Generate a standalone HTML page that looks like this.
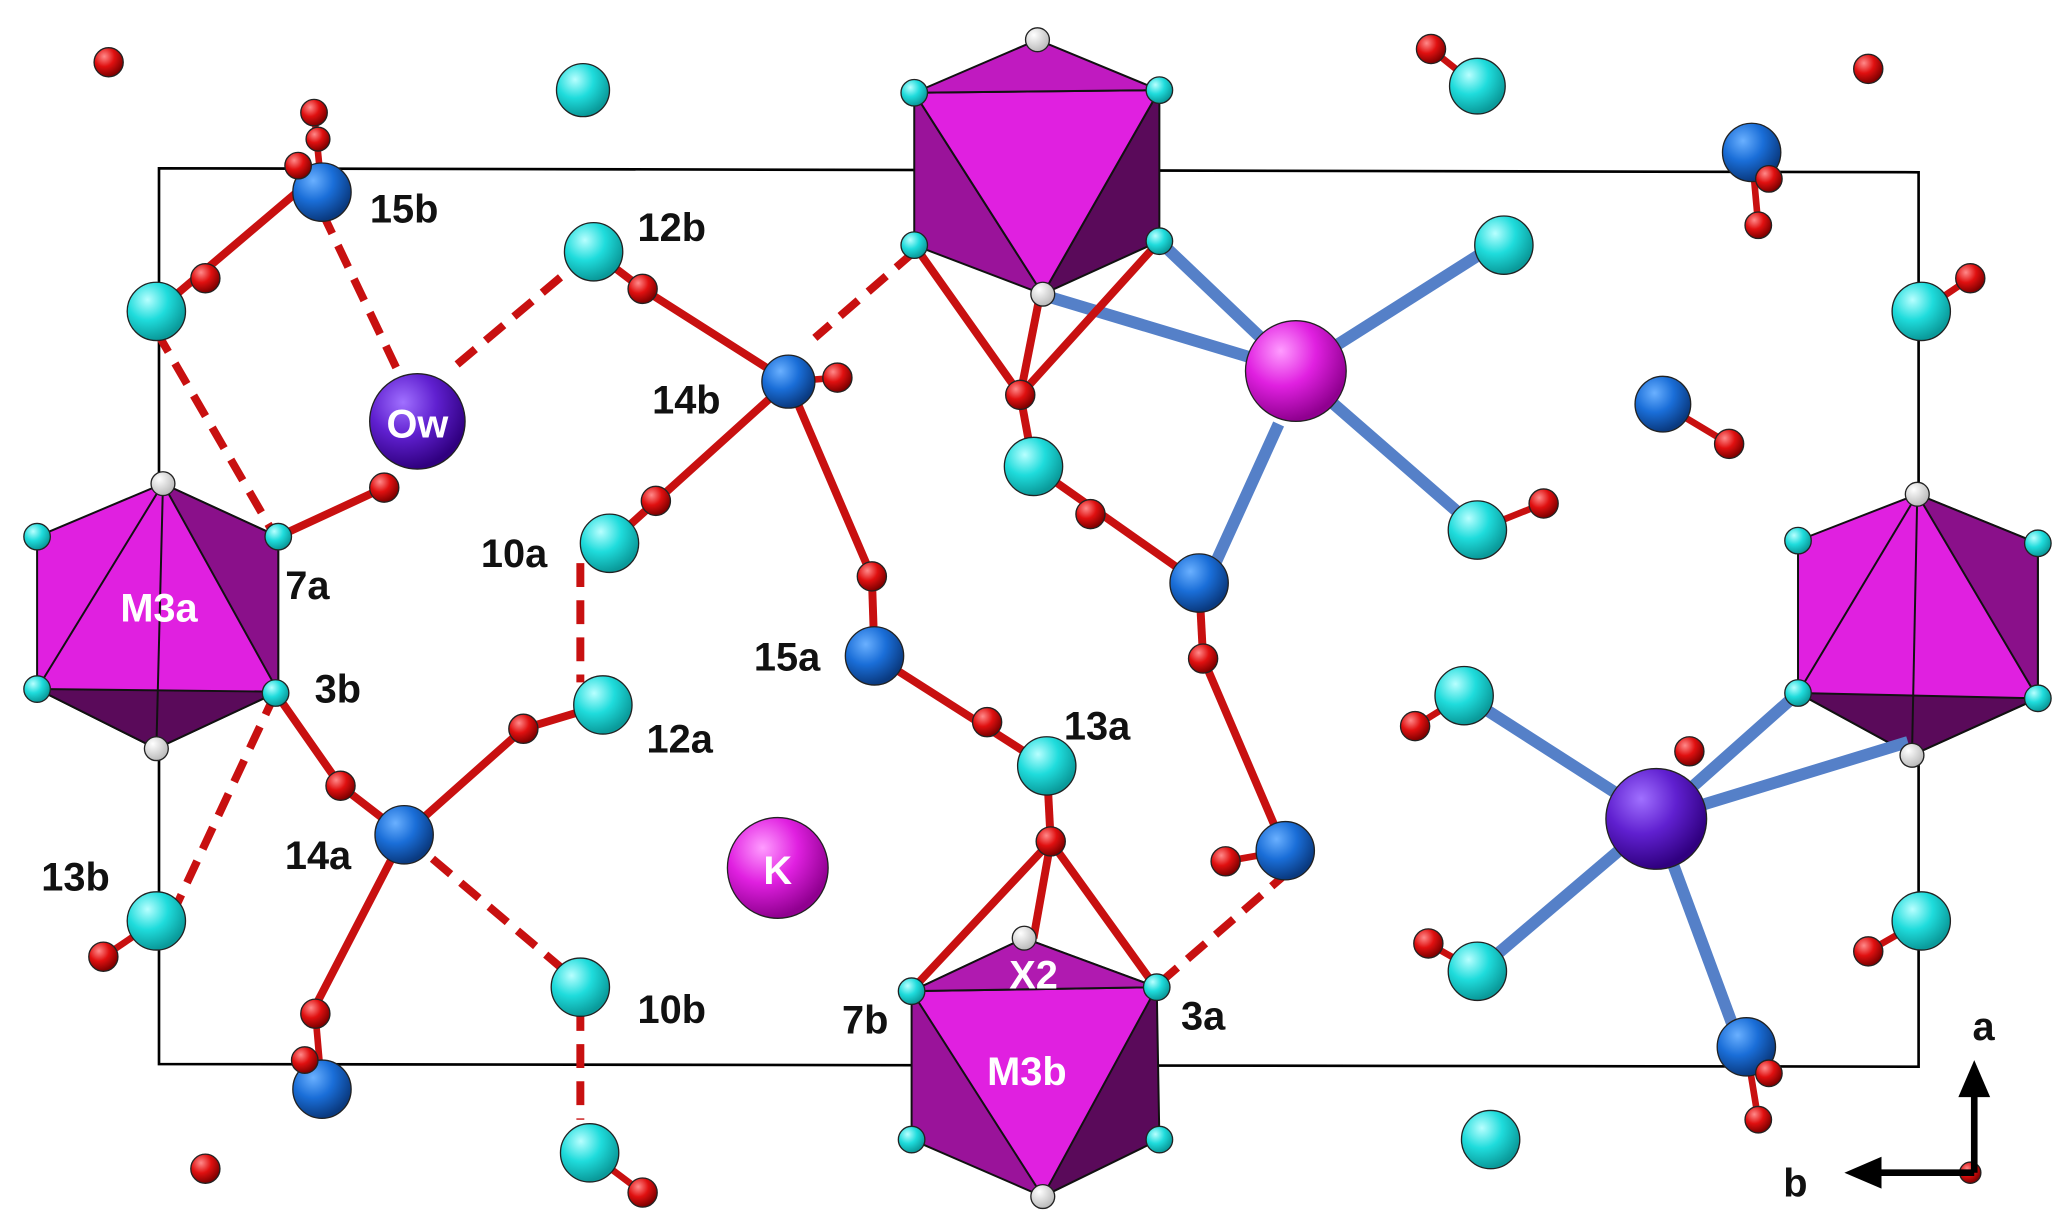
<!DOCTYPE html>
<html><head><meta charset="utf-8"><style>
html,body{margin:0;padding:0;background:#fff}
svg{display:block}
text{font-family:"Liberation Sans",Arial,sans-serif;font-weight:bold;font-size:30px;text-anchor:middle}
</style></head><body>
<svg width="2067" height="1231" viewBox="0 0 1560 929" preserveAspectRatio="none" xmlns="http://www.w3.org/2000/svg">
<defs>
<radialGradient id="gc" cx="35%" cy="30%" r="70%"><stop offset="0" stop-color="#b8ffff"/><stop offset="0.5" stop-color="#1fdcdc"/><stop offset="1" stop-color="#0a9a9a"/></radialGradient>
<radialGradient id="gb" cx="35%" cy="30%" r="70%"><stop offset="0" stop-color="#6ab0ff"/><stop offset="0.5" stop-color="#1a6ed8"/><stop offset="1" stop-color="#0a3a80"/></radialGradient>
<radialGradient id="gr" cx="35%" cy="30%" r="70%"><stop offset="0" stop-color="#ff8a8a"/><stop offset="0.5" stop-color="#e01010"/><stop offset="1" stop-color="#800000"/></radialGradient>
<radialGradient id="gw" cx="35%" cy="30%" r="70%"><stop offset="0" stop-color="#fff"/><stop offset="1" stop-color="#bbb"/></radialGradient>
<radialGradient id="gm" cx="35%" cy="30%" r="70%"><stop offset="0" stop-color="#ff9cff"/><stop offset="0.5" stop-color="#e020e0"/><stop offset="1" stop-color="#900090"/></radialGradient>
<radialGradient id="gp" cx="35%" cy="30%" r="70%"><stop offset="0" stop-color="#a070ff"/><stop offset="0.5" stop-color="#6020d0"/><stop offset="1" stop-color="#300080"/></radialGradient>
</defs>
<polygon points="120,127 1448,130 1448,805 120,803" fill="none" stroke="#000" stroke-width="2"/>

<g stroke="#111" stroke-width="1.5">
<polygon points="690,70 690,185 787,222" fill="#9a139a"/>
<polygon points="875,68 875,182 787,222" fill="#5a0a5a"/>
<polygon points="690,70 875,68 787,222" fill="#e020e0"/>
<polygon points="783,30 690,70 875,68" fill="#c01ac0"/>
<polygon points="773,708 688,748 688,860 787,903" fill="#9a139a"/>
<polygon points="773,708 873,745 875,860 787,903" fill="#5a0a5a"/>
<polygon points="688,748 873,745 787,903" fill="#e020e0"/>
<polygon points="773,708 688,748 873,745" fill="#b01ab0"/>
<polygon points="123,365 28,405 28,520 118,565 210,522 210,405" fill="#e020e0"/>
<polygon points="123,365 210,405 210,522" fill="#8a108a"/>
<polygon points="28,520 118,565 210,522" fill="#5a0a5a"/>
<line x1="123" y1="365" x2="28" y2="520"/><line x1="123" y1="365" x2="118" y2="565"/>
<polygon points="1447,373 1357,408 1357,523 1443,570 1538,527 1538,410" fill="#e020e0"/>
<polygon points="1447,373 1538,410 1538,527" fill="#8a108a"/>
<polygon points="1357,523 1443,570 1538,527" fill="#5a0a5a"/>
<line x1="1447" y1="373" x2="1357" y2="523"/><line x1="1447" y1="373" x2="1443" y2="570"/>
</g>

<g stroke="#5580c8" stroke-width="9">
<line x1="785" y1="222" x2="978" y2="280"/><line x1="875" y1="182" x2="978" y2="280"/>
<line x1="978" y1="280" x2="1120" y2="190"/><line x1="978" y1="280" x2="1110" y2="395"/>
<line x1="965" y1="320" x2="915" y2="430"/>
<line x1="1250" y1="618" x2="1105" y2="525"/><line x1="1250" y1="618" x2="1357" y2="523"/>
<line x1="1250" y1="618" x2="1440" y2="560"/><line x1="1250" y1="618" x2="1130" y2="720"/>
<line x1="1250" y1="618" x2="1310" y2="780"/>
</g>

<g stroke="#c81010" stroke-width="6" fill="none">
<line x1="118" y1="235" x2="230" y2="140"/>
<polyline points="448,190 485,218 595,288"/><line x1="595" y1="288" x2="460" y2="410"/>
<line x1="595" y1="288" x2="658" y2="435"/><line x1="658" y1="435" x2="660" y2="495"/>
<line x1="660" y1="495" x2="790" y2="578"/><line x1="790" y1="578" x2="793" y2="635"/>
<line x1="793" y1="635" x2="690" y2="745"/><line x1="793" y1="635" x2="780" y2="708"/><line x1="793" y1="635" x2="870" y2="742"/>
<line x1="210" y1="405" x2="290" y2="368"/>
<polyline points="208,523 257,593 305,630"/><polyline points="305,630 395,550 455,532"/>
<line x1="305" y1="630" x2="235" y2="765"/>
<line x1="690" y1="185" x2="770" y2="298"/><line x1="785" y1="222" x2="770" y2="298"/><line x1="875" y1="182" x2="770" y2="298"/>
<line x1="770" y1="298" x2="780" y2="352"/><line x1="780" y1="352" x2="905" y2="440"/>
<line x1="905" y1="440" x2="908" y2="497"/><line x1="908" y1="497" x2="970" y2="642"/>
</g>
<g stroke="#c81010" stroke-width="6" stroke-dasharray="18,10">
<line x1="118" y1="250" x2="205" y2="400"/><line x1="243" y1="160" x2="305" y2="290"/>
<line x1="345" y1="275" x2="440" y2="195"/><line x1="690" y1="190" x2="615" y2="255"/>
<line x1="438" y1="425" x2="438" y2="515"/><line x1="208" y1="523" x2="130" y2="690"/>
<line x1="305" y1="630" x2="435" y2="740"/><line x1="438" y1="760" x2="438" y2="845"/>
<line x1="875" y1="742" x2="970" y2="660"/>
</g>
<g stroke="#c81010" stroke-width="5">
<line x1="237" y1="85" x2="243" y2="145"/><line x1="1322" y1="115" x2="1327" y2="170"/>
<line x1="1255" y1="305" x2="1305" y2="335"/><line x1="595" y1="288" x2="632" y2="285"/>
<line x1="1115" y1="400" x2="1165" y2="380"/><line x1="1450" y1="235" x2="1487" y2="210"/>
<line x1="1080" y1="37" x2="1115" y2="65"/><line x1="1105" y1="525" x2="1068" y2="548"/>
<line x1="970" y1="642" x2="925" y2="650"/><line x1="118" y1="695" x2="78" y2="722"/>
<line x1="1450" y1="695" x2="1410" y2="718"/><line x1="1115" y1="733" x2="1078" y2="712"/>
<line x1="243" y1="822" x2="238" y2="765"/><line x1="1318" y1="790" x2="1327" y2="845"/>
<line x1="445" y1="870" x2="485" y2="900"/>
</g>

<g stroke="#222" stroke-width="1">
<g fill="url(#gc)">
<circle cx="440" cy="68" r="20"/><circle cx="1115" cy="65" r="21"/><circle cx="118" cy="235" r="22"/>
<circle cx="448" cy="190" r="22"/><circle cx="460" cy="410" r="22"/><circle cx="1135" cy="185" r="22"/>
<circle cx="1450" cy="235" r="22"/><circle cx="780" cy="352" r="22"/><circle cx="1115" cy="400" r="22"/>
<circle cx="455" cy="532" r="22"/><circle cx="790" cy="578" r="22"/><circle cx="1105" cy="525" r="22"/>
<circle cx="1450" cy="695" r="22"/><circle cx="118" cy="695" r="22"/><circle cx="438" cy="745" r="22"/>
<circle cx="1115" cy="733" r="22"/><circle cx="445" cy="870" r="22"/><circle cx="1125" cy="860" r="22"/>
</g>
<g fill="url(#gc)">
<circle cx="690" cy="70" r="10"/><circle cx="875" cy="68" r="10"/><circle cx="690" cy="185" r="10"/><circle cx="875" cy="182" r="10"/>
<circle cx="688" cy="748" r="10"/><circle cx="873" cy="745" r="10"/><circle cx="688" cy="860" r="10"/><circle cx="875" cy="860" r="10"/>
<circle cx="28" cy="405" r="10"/><circle cx="210" cy="405" r="10"/><circle cx="28" cy="520" r="10"/><circle cx="208" cy="523" r="10"/>
<circle cx="1357" cy="408" r="10"/><circle cx="1538" cy="410" r="10"/><circle cx="1357" cy="523" r="10"/><circle cx="1538" cy="527" r="10"/>
</g>
<g fill="url(#gw)">
<circle cx="783" cy="30" r="9"/><circle cx="787" cy="222" r="9"/><circle cx="773" cy="708" r="9"/><circle cx="787" cy="903" r="9"/>
<circle cx="123" cy="365" r="9"/><circle cx="118" cy="565" r="9"/><circle cx="1447" cy="373" r="9"/><circle cx="1443" cy="570" r="9"/>
</g>
<g fill="url(#gb)">
<circle cx="1322" cy="115" r="22"/><circle cx="243" cy="145" r="22"/><circle cx="595" cy="288" r="20"/>
<circle cx="1255" cy="305" r="21"/><circle cx="905" cy="440" r="22"/><circle cx="660" cy="495" r="22"/>
<circle cx="305" cy="630" r="22"/><circle cx="970" cy="642" r="22"/><circle cx="243" cy="822" r="22"/>
<circle cx="1318" cy="790" r="22"/>
</g>
<g fill="url(#gr)">
<circle cx="82" cy="47" r="11"/><circle cx="1080" cy="37" r="11"/><circle cx="1410" cy="52" r="11"/>
<circle cx="237" cy="85" r="10"/><circle cx="240" cy="105" r="9"/><circle cx="225" cy="125" r="10"/>
<circle cx="1335" cy="135" r="10"/><circle cx="1327" cy="170" r="10"/><circle cx="155" cy="210" r="11"/>
<circle cx="485" cy="218" r="11"/><circle cx="632" cy="285" r="11"/><circle cx="1487" cy="210" r="11"/>
<circle cx="1305" cy="335" r="11"/><circle cx="770" cy="298" r="11"/><circle cx="823" cy="388" r="11"/>
<circle cx="290" cy="368" r="11"/><circle cx="495" cy="378" r="11"/><circle cx="1165" cy="380" r="11"/>
<circle cx="908" cy="497" r="11"/><circle cx="658" cy="435" r="11"/><circle cx="395" cy="550" r="11"/>
<circle cx="745" cy="545" r="11"/><circle cx="793" cy="635" r="11"/><circle cx="1068" cy="548" r="11"/>
<circle cx="1275" cy="567" r="11"/><circle cx="1410" cy="718" r="11"/><circle cx="257" cy="593" r="11"/>
<circle cx="925" cy="650" r="11"/><circle cx="78" cy="722" r="11"/><circle cx="1078" cy="712" r="11"/>
<circle cx="238" cy="765" r="11"/><circle cx="230" cy="800" r="10"/><circle cx="1335" cy="810" r="10"/>
<circle cx="1327" cy="845" r="10"/><circle cx="155" cy="882" r="11"/><circle cx="485" cy="900" r="11"/>
<circle cx="1487" cy="885" r="8"/>
</g>
<circle cx="315" cy="318" r="36" fill="url(#gp)"/>
<circle cx="978" cy="280" r="38" fill="url(#gm)"/>
<circle cx="1250" cy="618" r="38" fill="url(#gp)"/>
<circle cx="587" cy="655" r="38" fill="url(#gm)"/>
</g>

<g stroke="#000" stroke-width="5">
<line x1="1490" y1="885" x2="1490" y2="825"/><line x1="1490" y1="885" x2="1415" y2="885"/>
</g>
<polygon points="1490,800 1478,828 1502,828" fill="#000"/>
<polygon points="1392,885 1420,873 1420,897" fill="#000"/>

<g fill="#fff">
<text x="315" y="330">Ow</text><text x="587" y="667">K</text>
<text x="120" y="469">M3a</text><text x="780" y="746">X2</text><text x="775" y="819">M3b</text>
</g>
<g fill="#111">
<text x="305" y="168">15b</text><text x="507" y="182">12b</text><text x="518" y="312">14b</text>
<text x="232" y="452">7a</text><text x="388" y="428">10a</text><text x="255" y="530">3b</text>
<text x="513" y="568">12a</text><text x="594" y="506">15a</text><text x="828" y="558">13a</text>
<text x="57" y="672">13b</text><text x="240" y="656">14a</text><text x="507" y="772">10b</text>
<text x="653" y="780">7b</text><text x="908" y="777">3a</text>
<text x="1497" y="785">a</text><text x="1355" y="903">b</text>
</g>
</svg>
</body></html>
